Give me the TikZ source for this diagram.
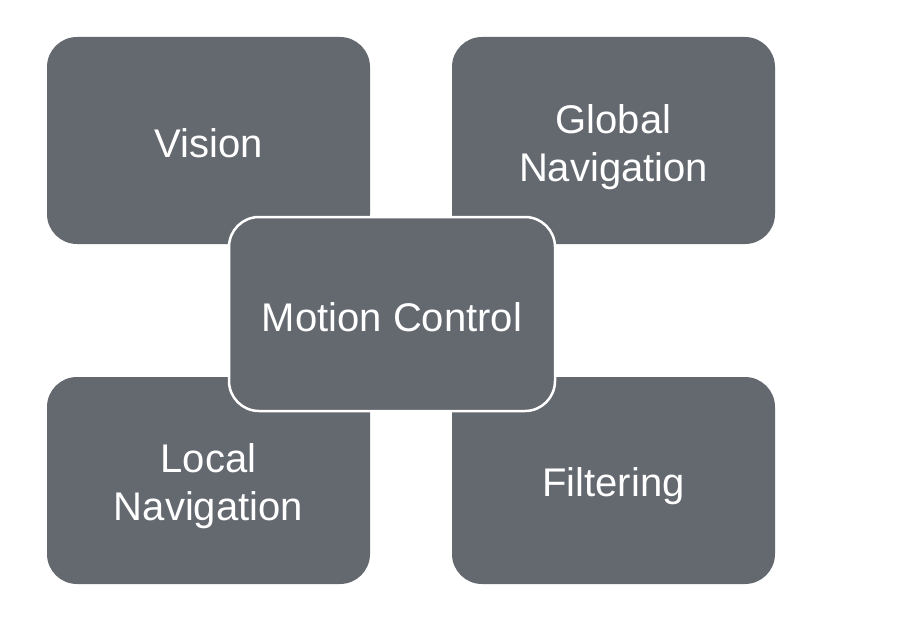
\documentclass[tikz,border=0pt]{standalone}
\usepackage{fontspec}
\setmainfont{Liberation Sans}
\definecolor{boxgray}{HTML}{646970}
\begin{document}
\begin{tikzpicture}[x=1pt,y=-1pt,
  box/.style={fill=boxgray,rounded corners=30pt,draw=none},
  lbl/.style={text=white,font=\fontsize{40}{48}\selectfont,align=center},
  center/.style={fill=boxgray,draw=white,line width=2.5pt,rounded corners=30pt}]
\useasboundingbox[fill=white] (0,0) rectangle (900,626);
\fill[box] (47,37) rectangle (370,244);
\fill[box] (452,37) rectangle (775,244);
\fill[box] (47,377) rectangle (370,584);
\fill[box] (452,377) rectangle (775,584);
\node[lbl] (vision) at (208.5,143) {Vision};
\node[lbl] (global) at (613.5,147) {Global\\Navigation};
\node[lbl] (local) at (208.5,486) {Local\\Navigation};
\node[lbl] (filter) at (613.5,486) {Filtering};
\draw[center] (229,217) rectangle (555,411);
\node[lbl] (motion) at (392,317) {Motion Control};
\end{tikzpicture}
\end{document}
